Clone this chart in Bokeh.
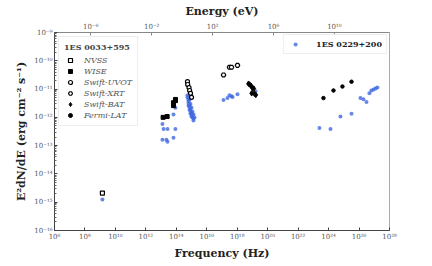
from bokeh.plotting import figure
from bokeh.models import (Range1d, LogScale, LogAxis, FixedTicker, CustomJSTickFormatter,
                          Legend, LegendItem)
from bokeh.embed import file_html
from bokeh.resources import INLINE

# ---------------- data: 1ES 0033+595 (black) ----------------
nvss_nu = [1.4e9]
nvss_f = [2.1e-15]

wise_nu = [1.36e13, 2.5e13, 6.5e13, 6.5e13, 8.8e13, 8.8e13]
wise_f = [1.0e-12, 1.07e-12, 2.6e-12, 3.3e-12, 3.9e-12, 4.3e-12]

uvot_nu = [5.4e14, 5.6e14, 6.8e14, 7.5e14, 8.6e14, 1.0e15]
uvot_f = [1.82e-11, 1.45e-11, 1.13e-11, 8.9e-12, 7.1e-12, 5.1e-12]

xrt_nu = [1.26e17, 3.1e17, 4.2e17, 1.04e18]
xrt_f = [3.16e-11, 5.9e-11, 5.9e-11, 6.9e-11]

bat_nu = [5.5e18, 6.6e18, 8.3e18, 1.0e19, 1.22e19, 8.9e18, 1.35e19, 1.66e19]
bat_f = [1.55e-11, 1.44e-11, 1.29e-11, 1.10e-11, 1.04e-11, 7.1e-12, 6.9e-12, 6.2e-12]

lat_nu = [4.6e23, 2.1e24, 8.1e24, 3.2e25]
lat_f = [4.8e-12, 8.9e-12, 1.23e-11, 1.82e-11]

# ---------------- data: 1ES 0229+200 (blue) ----------------
b_radio_nu = [1.4e9]
b_radio_f = [1.25e-15]

b_ir_nu = [1.23e13, 1.45e13, 2.63e13, 8.7e13, 6.5e13, 8.7e13, 1.23e13, 2.24e13, 2.63e13, 6.5e13]
b_ir_f = [5.8e-13, 3.9e-13, 3.9e-13, 3.9e-13, 1.26e-12, 2.18e-12, 1.62e-13, 1.62e-13, 1.37e-13, 1.9e-13]

b_opt_nu = [5.41e14, 5.41e14, 6.28e14, 6.28e14, 7.31e14, 6.28e14, 7.31e14, 8.5e14, 7.31e14,
            8.5e14, 9.9e14, 8.5e14, 9.9e14, 1.15e15, 9.9e14, 1.15e15, 1.34e15, 1.15e15,
            1.34e15, 1.56e15, 1.34e15, 9.9e14, 8.5e14, 7.31e14, 6.28e14]
b_opt_f = [6.05e-12, 5.17e-12, 4.41e-12, 3.77e-12, 4.08e-12, 3.23e-12, 2.75e-12, 2.98e-12, 2.36e-12,
           2.01e-12, 2.18e-12, 1.72e-12, 1.47e-12, 1.59e-12, 1.26e-12, 1.16e-12, 1.26e-12, 9.9e-13,
           9.2e-13, 9.9e-13, 7.8e-13, 1.07e-12, 1.36e-12, 1.86e-12, 2.55e-12]

b_x_nu = [1.26e17, 2.3e17, 3.1e17, 4.2e17, 4.9e17, 1.04e18, 1.58e19]
b_x_f = [4.07e-12, 4.8e-12, 6.0e-12, 5.6e-12, 5.2e-12, 6.6e-12, 8.3e-12]

b_g_nu = [2.5e23, 1.33e24, 6.0e24, 3.2e25, 1.23e26, 1.95e26, 3.1e26, 4.8e26, 6.5e26, 8.9e26, 1.2e27, 1.6e27]
b_g_f = [4.2e-13, 3.9e-13, 1.07e-12, 1.35e-12, 4.8e-12, 4.4e-12, 3.5e-12, 7.1e-12, 8.9e-12, 9.7e-12, 1.05e-11, 1.13e-11]

x_ticks = [1e6, 1e8, 1e10, 1e12, 1e14, 1e16, 1e18, 1e20, 1e22, 1e24, 1e26, 1e28]
y_ticks = [1e-16, 1e-15, 1e-14, 1e-13, 1e-12, 1e-11, 1e-10, 1e-9]
e_ticks = [1e-6, 1e-2, 1e2, 1e6, 1e10]

H_EV = 4.135667696e-15  # eV per Hz

FONT = "DejaVu Serif"
BLUE = "#4169E1"

p = figure(width=416, height=262, x_axis_type="log", y_axis_type="log",
           x_range=Range1d(1e6, 1e28), y_range=Range1d(1e-16, 1e-9),
           output_backend="svg", toolbar_location=None,
           min_border_left=54, min_border_right=27, min_border_top=32, min_border_bottom=25)
p.xgrid.visible = False
p.ygrid.visible = False
p.outline_line_color = "#aaaaaa"
p.background_fill_color = "white"
p.border_fill_color = "white"

fmt = CustomJSTickFormatter(code="""
const sup = {'-':'\u207b','0':'\u2070','1':'\u00b9','2':'\u00b2','3':'\u00b3','4':'\u2074','5':'\u2075','6':'\u2076','7':'\u2077','8':'\u2078','9':'\u2079'};
const e = Math.round(Math.log10(tick));
return '10' + String(e).split('').map(c => sup[c]).join('');
""")

y_minor = [m * 10.0 ** k for k in range(-16, -9) for m in range(2, 10)]
x_minor = [10.0 ** k for k in range(6, 29)]

p.xaxis.ticker = FixedTicker(ticks=x_ticks, minor_ticks=x_minor)
p.yaxis.ticker = FixedTicker(ticks=y_ticks, minor_ticks=y_minor)

for ax in (p.xaxis[0], p.yaxis[0]):
    ax.formatter = fmt
    ax.major_label_text_font = FONT
    ax.major_label_text_font_size = "7px"
    ax.major_label_text_color = "#555555"
    ax.axis_label_text_font = FONT
    ax.axis_label_text_font_style = "bold"
    ax.axis_label_text_font_size = "11px"
    ax.axis_label_text_color = "#222222"
    ax.axis_line_color = "#444444"
    ax.major_tick_line_color = "#444444"
    ax.minor_tick_line_color = "#666666"
    ax.major_tick_in = 3
    ax.major_tick_out = 0
    ax.minor_tick_in = 2
    ax.minor_tick_out = 0
    ax.major_label_standoff = 2
    ax.axis_label_standoff = 3

p.xaxis.axis_label = "Frequency (Hz)"
p.yaxis.axis_label = "E\u00b2dN/dE (erg cm\u207b\u00b2 s\u207b\u00b9)"
p.xaxis.minor_tick_in = 0

p.extra_x_ranges = {"E": Range1d(1e6 * H_EV, 1e28 * H_EV)}
p.extra_x_scales = {"E": LogScale()}
top = LogAxis(x_range_name="E", axis_label="Energy (eV)")
top.ticker = FixedTicker(ticks=e_ticks, minor_ticks=[])
top.formatter = fmt
top.major_label_text_font = FONT
top.major_label_text_font_size = "7px"
top.major_label_text_color = "#555555"
top.axis_label_text_font = FONT
top.axis_label_text_font_style = "bold"
top.axis_label_text_font_size = "11px"
top.axis_label_text_color = "#222222"
top.axis_line_color = "#888888"
top.major_tick_line_color = "#888888"
top.major_tick_in = 3
top.major_tick_out = 0
top.major_label_standoff = 2
top.axis_label_standoff = 2
p.add_layout(top, "above")

# blue series
bkw = dict(size=4, color=BLUE, alpha=0.8, line_width=0)
rb = p.scatter(b_radio_nu, b_radio_f, **bkw)
p.scatter(b_ir_nu, b_ir_f, **bkw)
p.scatter(b_opt_nu, b_opt_f, **bkw)
p.scatter(b_x_nu, b_x_f, **bkw)
p.scatter(b_g_nu, b_g_f, **bkw)

# black series
r_nvss = p.scatter(nvss_nu, nvss_f, marker="square", size=4, fill_color="white",
                   line_color="black", line_width=1.2)
r_wise = p.scatter(wise_nu, wise_f, marker="square", size=4, color="black")
r_uvot = p.scatter(uvot_nu, uvot_f, marker="circle", size=4, fill_color="white",
                   line_color="black", line_width=1.2)
r_xrt = p.scatter(xrt_nu, xrt_f, marker="hex", size=4.5, fill_color="white",
                  line_color="black", line_width=1.2)
r_bat = p.scatter(bat_nu, bat_f, marker="diamond", size=5.5, color="black")
r_lat = p.scatter(lat_nu, lat_f, marker="circle", size=3.5, color="black")

leg1 = Legend(items=[
    LegendItem(label="NVSS", renderers=[r_nvss]),
    LegendItem(label="WISE", renderers=[r_wise]),
    LegendItem(label="Swift-UVOT", renderers=[r_uvot]),
    LegendItem(label="Swift-XRT", renderers=[r_xrt]),
    LegendItem(label="Swift-BAT", renderers=[r_bat]),
    LegendItem(label="Fermi-LAT", renderers=[r_lat]),
], location="top_left", title="1ES 0033+595")
leg1.title_text_font = FONT
leg1.title_text_font_style = "bold"
leg1.title_text_font_size = "8px"
leg1.title_standoff = 3
leg1.label_text_font = FONT
leg1.label_text_font_size = "8px"
leg1.label_text_color = "#555555"
leg1.label_text_font_style = "italic"
leg1.label_height = 10
leg1.glyph_height = 10
leg1.glyph_width = 12
leg1.label_standoff = 8
leg1.spacing = 1
leg1.padding = 5
leg1.margin = 4
leg1.border_line_color = "#dddddd"
leg1.border_line_width = 1
leg1.background_fill_alpha = 0.9
p.add_layout(leg1)

leg2 = Legend(items=[LegendItem(label="1ES 0229+200", renderers=[rb])], location="top_right")
leg2.label_text_font = FONT
leg2.label_text_font_style = "bold"
leg2.label_text_font_size = "8px"
leg2.label_text_color = "#222222"
leg2.label_height = 10
leg2.glyph_height = 10
leg2.glyph_width = 14
leg2.label_standoff = 14
leg2.padding = 4
leg2.margin = 2
leg2.border_line_color = "#dddddd"
leg2.background_fill_alpha = 0.9
p.add_layout(leg2)

open("out.html", "w").write(file_html(p, INLINE))
